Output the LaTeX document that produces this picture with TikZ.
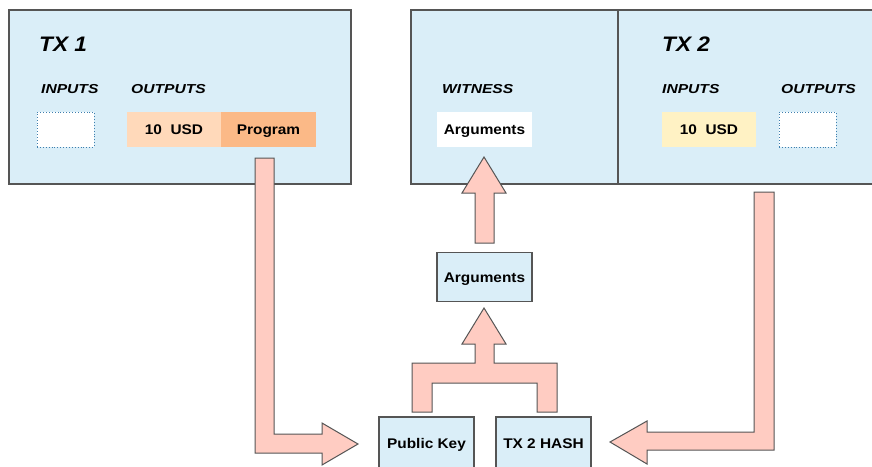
\documentclass[tikz,border=0pt]{standalone}
\usepackage{fontspec}
\setmainfont{Liberation Sans}
\newfontfamily\boxfont{Liberation Sans}[FakeStretch=1.1]
\newfontfamily\titlefont{Liberation Sans}[FakeStretch=1.08]
\newfontfamily\labelfont{Liberation Sans}[FakeStretch=1.2]
\definecolor{txblue}{HTML}{DAEEF8}
\definecolor{edgegray}{HTML}{555555}
\definecolor{outlight}{HTML}{FFD9BA}
\definecolor{outdark}{HTML}{FBB987}
\definecolor{inyellow}{HTML}{FFF2C4}
\definecolor{arrowpink}{HTML}{FFCCC2}
\definecolor{dotblue}{HTML}{3E7FAE}
\tikzset{
  txbox/.style={draw=edgegray, fill=txblue, line width=1.2pt},
  title/.style={anchor=base west, inner sep=0pt, font=\titlefont\bfseries\itshape\fontsize{21}{24}\selectfont},
  sublabel/.style={anchor=base west, inner sep=0pt, font=\labelfont\bfseries\itshape\fontsize{13}{15}\selectfont},
  cell/.style={inner sep=0pt, minimum width=94pt, minimum height=35pt, text height=10pt, text depth=0pt, font=\boxfont\bfseries\fontsize{14}{16}\selectfont},
  dotcell/.style={draw=dotblue, dotted, fill=white, line width=0.9pt, inner sep=0pt, minimum width=57pt, minimum height=35pt},
  smallbox/.style={draw=edgegray, fill=txblue, line width=1.1pt, inner sep=0pt, minimum width=95pt, text height=10pt, text depth=0pt, font=\boxfont\bfseries\fontsize{14}{16}\selectfont},
  blockarrow/.style={draw=edgegray, fill=arrowpink, line width=1pt, line join=miter}
}
\begin{document}
\begin{tikzpicture}[x=1pt, y=-1pt]
\useasboundingbox (0,0) rectangle (872,466);
\clip (0,0) rectangle (872,466);
\fill[white] (0,0) rectangle (872,466);
% transaction boxes
\draw[txbox] (9,10) rectangle (351,184);
\draw[txbox] (411,10) rectangle (618,184);
\draw[txbox] (618,10) rectangle (890,184);
% TX1 contents
\node[title] (tx1) at (39,51.5) {TX 1};
\node[sublabel] (in1) at (41,93) {INPUTS};
\node[sublabel] (out1) at (131,93) {OUTPUTS};
\node[dotcell] (in1box) at (65.5,129.5) {};
\node[cell, fill=outlight] (usd1) at (174,129.5) {10\ \ USD};
\node[cell, fill=outdark, minimum width=95pt] (prog) at (268.5,129.5) {Program};
% TX2 contents
\node[sublabel] (wit) at (442,93) {WITNESS};
\node[cell, fill=white, minimum width=95pt] (args1) at (484.5,129.5) {Arguments};
\node[title] (tx2) at (662,51.5) {TX 2};
\node[sublabel] (in2) at (662,93) {INPUTS};
\node[sublabel] (out2) at (781,93) {OUTPUTS};
\node[cell, fill=inyellow] (usd2) at (709,129.5) {10\ \ USD};
\node[dotcell] (out2box) at (807.5,129.5) {};
% middle boxes
\node[smallbox, minimum height=49pt] (args2) at (484.5,277) {Arguments};
\node[smallbox, minimum height=52pt] (pk) at (426.5,443) {Public Key};
\node[smallbox, minimum height=52pt] (hash) at (543.5,443) {TX 2 HASH};
% block arrows
\draw[blockarrow] (255,158) -- (274,158) -- (274,434) -- (322,434) -- (322,423)
  -- (358,444) -- (322,465) -- (322,453) -- (255,453) -- cycle;
\draw[blockarrow] (475,243) -- (475,193) -- (462,193) -- (484,157) -- (506,193)
  -- (494,193) -- (494,243) -- cycle;
\draw[blockarrow] (412,412) -- (412,363) -- (475,363) -- (475,344) -- (462,344)
  -- (484,308) -- (506,344) -- (494,344) -- (494,363) -- (557,363) -- (557,412)
  -- (537,412) -- (537,383) -- (432,383) -- (432,412) -- cycle;
\draw[blockarrow] (754,192) -- (774,192) -- (774,450) -- (647,450) -- (647,464)
  -- (610,442) -- (647,421) -- (647,432) -- (754,432) -- cycle;
\end{tikzpicture}
\end{document}
